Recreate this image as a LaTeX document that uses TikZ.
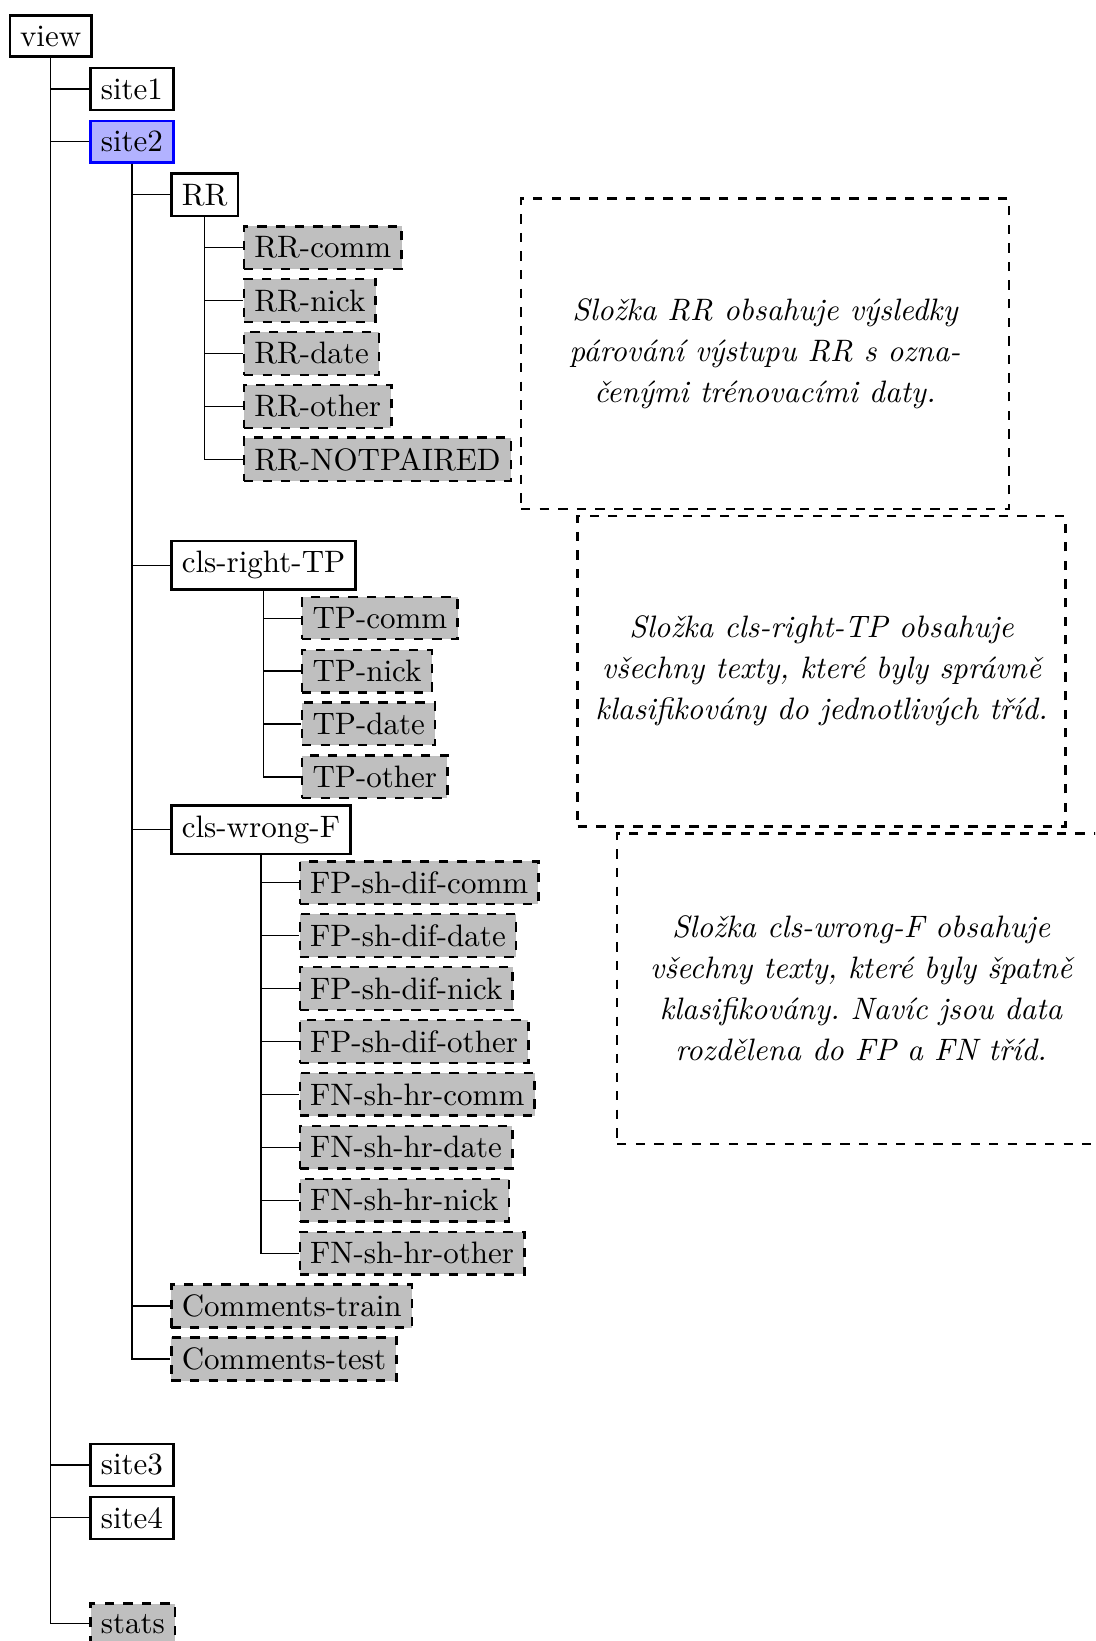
\documentclass[tikz,border=0pt]{standalone}
\frenchspacing
\begin{document}
\begin{tikzpicture}[
        folder/.style={draw=black, thick, anchor=west},
        selected/.style={folder, draw=blue, fill=blue!30},
        optional/.style={folder, dashed, fill=gray!50},
        note/.style={draw=black, thick, dashed, align=center,
            minimum width=5.53cm, minimum height=3.52cm,
            font=\itshape\linespread{1.1}\selectfont}
    ]
        \useasboundingbox (0,0) rectangle (12.415,-18.605);
        \clip (0,0) rectangle (12.415,-18.605);

        % top level
        \node[folder] (view) at (0.097,-0.408) {view};
        \node[folder] (site1) at (1.012,-1.008) {site1};
        \node[selected] (site2) at (1.012,-1.608) {site2};
        \node[folder] (site3) at (1.012,-16.608) {site3};
        \node[folder] (site4) at (1.012,-17.208) {site4};
        \node[optional] (stats) at (1.012,-18.408) {stats};

        % inside site2
        \node[folder] (rr) at (1.930,-2.208) {RR};
        \node[optional] (rrcomm) at (2.752,-2.808) {RR-comm};
        \node[optional] (rrnick) at (2.752,-3.408) {RR-nick};
        \node[optional] (rrdate) at (2.752,-4.008) {RR-date};
        \node[optional] (rrother) at (2.752,-4.608) {RR-other};
        \node[optional] (rrnotpaired) at (2.752,-5.208) {RR-NOTPAIRED};

        \node[folder] (clsright) at (1.930,-6.408) {cls-right-TP};
        \node[optional] (tpcomm) at (3.412,-7.008) {TP-comm};
        \node[optional] (tpnick) at (3.412,-7.608) {TP-nick};
        \node[optional] (tpdate) at (3.412,-8.208) {TP-date};
        \node[optional] (tpother) at (3.412,-8.808) {TP-other};

        \node[folder] (clswrong) at (1.930,-9.408) {cls-wrong-F};
        \node[optional] (fpcomm) at (3.385,-10.008) {FP-sh-dif-comm};
        \node[optional] (fpdate) at (3.385,-10.608) {FP-sh-dif-date};
        \node[optional] (fpnick) at (3.385,-11.208) {FP-sh-dif-nick};
        \node[optional] (fpother) at (3.385,-11.808) {FP-sh-dif-other};
        \node[optional] (fncomm) at (3.385,-12.408) {FN-sh-hr-comm};
        \node[optional] (fndate) at (3.385,-13.008) {FN-sh-hr-date};
        \node[optional] (fnnick) at (3.385,-13.608) {FN-sh-hr-nick};
        \node[optional] (fnother) at (3.385,-14.208) {FN-sh-hr-other};

        \node[optional] (comtrain) at (1.930,-14.808) {Comments-train};
        \node[optional] (comtest) at (1.930,-15.408) {Comments-test};

        % tree lines
        \foreach \c in {site1,site2,site3,site4,stats}
            \draw (view.south) |- (\c.west);
        \foreach \c in {rr,clsright,clswrong,comtrain,comtest}
            \draw (site2.south) |- (\c.west);
        \foreach \c in {rrcomm,rrnick,rrdate,rrother,rrnotpaired}
            \draw (rr.south) |- (\c.west);
        \foreach \c in {tpcomm,tpnick,tpdate,tpother}
            \draw (clsright.south) |- (\c.west);
        \foreach \c in {fpcomm,fpdate,fpnick,fpother,fncomm,fndate,fnnick,fnother}
            \draw (clswrong.south) |- (\c.west);

        % notes
        \node[note] (noterr) at (8.673,-4.008)
            {Složka RR obsahuje výsledky\\párování výstupu RR s ozna-\\čenými trénovacími daty.};
        \node[note] (noteright) at (9.314,-7.608)
            {Složka cls-right-TP obsahuje\\všechny texty, které byly správně\\klasifikovány do jednotlivých tříd.};
        \node[note] (notewrong) at (9.762,-11.208)
            {Složka cls-wrong-F obsahuje\\všechny texty, které byly špatně\\klasifikovány. Navíc jsou data\\rozdělena do FP a FN tříd.};
    \end{tikzpicture}
\end{document}
